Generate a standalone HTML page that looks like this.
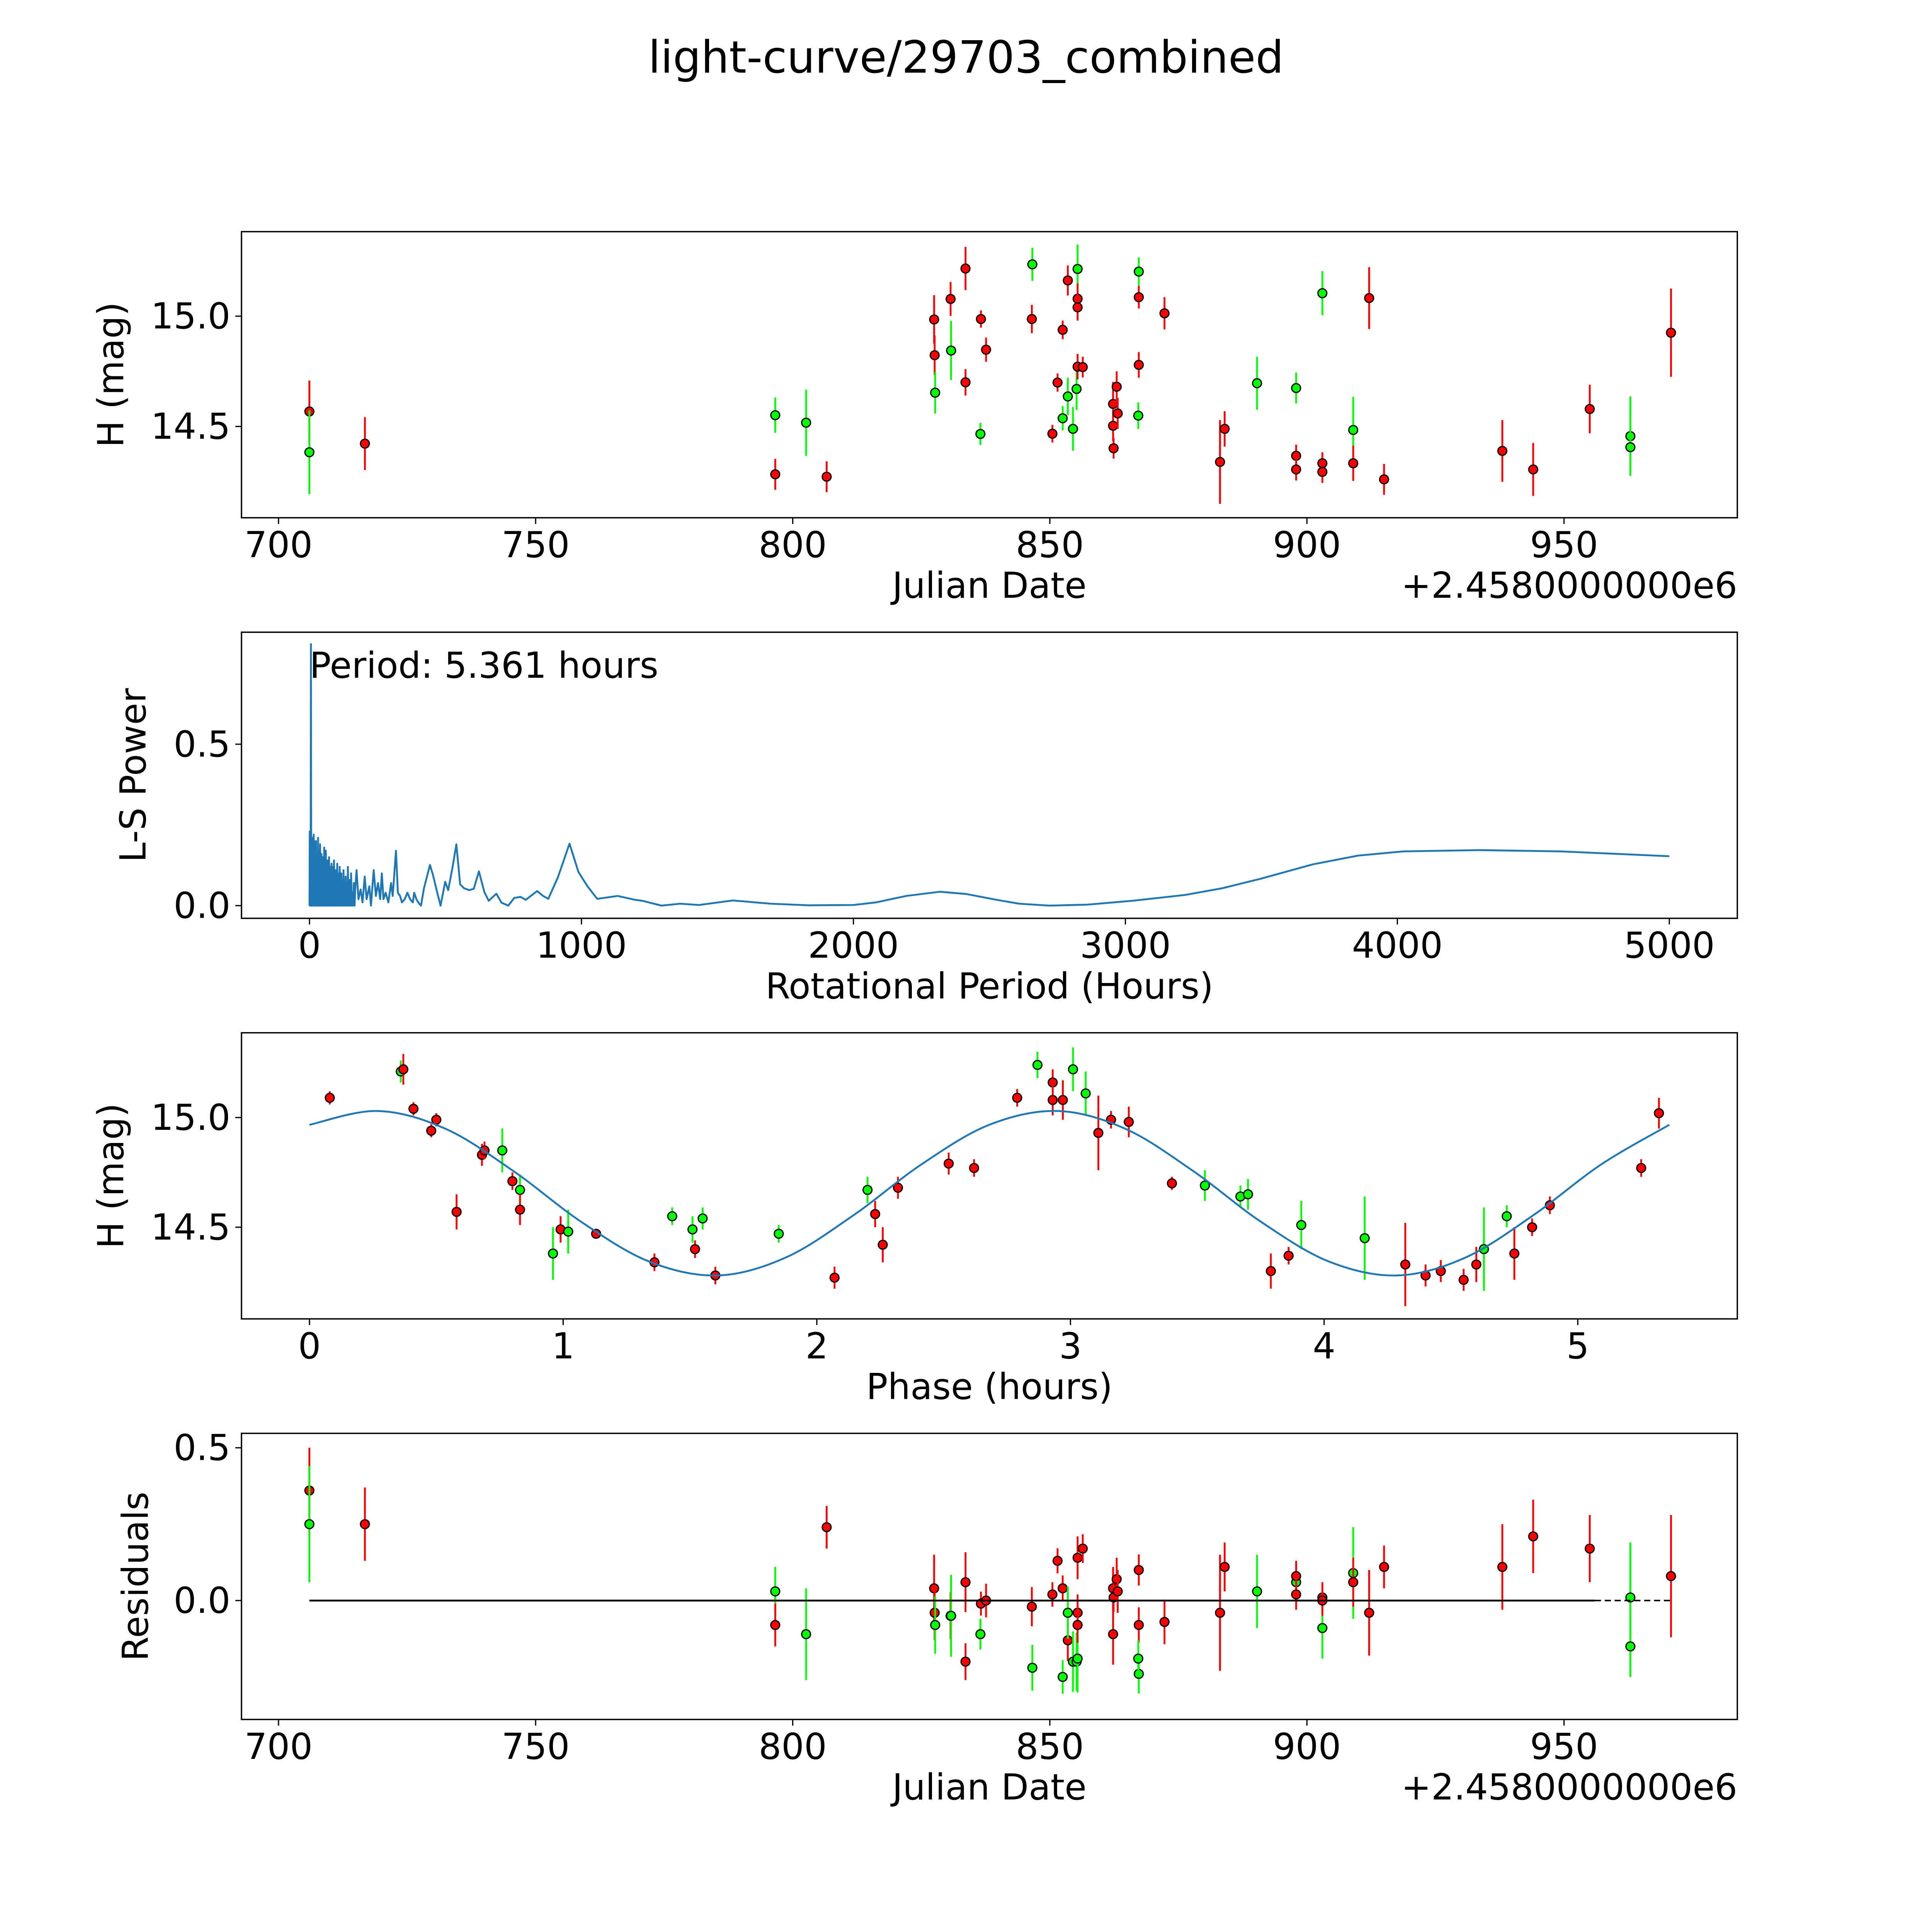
<!DOCTYPE html>
<html><head><meta charset="utf-8"><style>
html,body{margin:0;padding:0;background:#fff;overflow:hidden;width:100%;height:100%;}
svg{display:block;width:100vw;height:100vh;}
text{font-family:"DejaVu Sans","Liberation Sans",sans-serif;fill:#000;}
</style></head><body>
<svg id="fig" xmlns="http://www.w3.org/2000/svg" viewBox="0 0 1568 1568" preserveAspectRatio="none">
<rect x="0" y="0" width="1568" height="1568" fill="#fff"/>
<text x="784" y="59" font-size="36" text-anchor="middle">light-curve/29703_combined</text>
<g id="root"></g>
</svg>
<script>
// ---------- Panel 1: light curve ----------
const lcDates=[706.0,706.0,716.8,796.6,796.6,802.6,806.6,827.5,827.6,827.7,830.7,830.8,833.6,833.6,836.6,836.5,837.6,846.6,846.5,850.5,851.5,852.5,852.5,853.5,853.5,854.5,855.2,855.4,855.4,855.4,855.4,856.4,862.3,862.3,862.4,863.0,863.2,867.3,867.3,867.3,867.2,872.3,883.1,884.0,890.3,897.9,897.9,897.9,903.0,903.0,903.0,909.0,909.0,912.1,915.0,938.0,944.0,955.0,962.9,962.9,970.8];
const lcMags=[14.568,14.383,14.422,14.551,14.283,14.517,14.272,14.985,14.823,14.653,15.078,14.844,15.216,14.700,14.987,14.466,14.848,15.235,14.987,14.467,14.699,14.938,14.537,15.162,14.636,14.489,14.670,15.214,15.079,15.040,14.771,14.769,14.602,14.503,14.401,14.680,14.559,15.202,15.086,14.779,14.549,15.013,14.339,14.489,14.696,14.674,14.367,14.305,15.104,14.333,14.294,14.484,14.333,15.082,14.260,14.389,14.305,14.579,14.456,14.406,14.925];
const lcErrs=[0.14,0.19,0.12,0.08,0.07,0.15,0.07,0.11,0.09,0.094,0.077,0.134,0.098,0.06,0.039,0.05,0.055,0.075,0.064,0.04,0.041,0.042,0.055,0.068,0.085,0.099,0.095,0.111,0.07,0.06,0.058,0.047,0.10,0.07,0.047,0.07,0.07,0.064,0.051,0.058,0.06,0.073,0.19,0.08,0.12,0.07,0.05,0.05,0.10,0.05,0.05,0.15,0.08,0.14,0.07,0.14,0.12,0.11,0.18,0.10,0.2];
const lcColors=['r','g','r','g','r','g','r','r','r','g','r','g','r','r','r','g','r','g','r','r','r','r','g','r','g','g','g','g','r','r','r','r','r','r','r','r','r','g','r','r','g','r','r','r','g','g','r','r','g','r','r','g','r','r','r','r','r','r','g','g','r'];
// ---------- Panel 4: residuals ----------
const resValues=[0.36,0.25,0.25,0.03,-0.08,-0.11,0.24,0.04,-0.04,-0.08,-0.05,-0.05,0.06,-0.20,-0.01,-0.11,0.00,-0.22,-0.02,0.02,0.13,0.04,-0.25,-0.13,-0.04,-0.20,-0.20,-0.19,0.14,-0.04,-0.08,0.17,-0.11,0.04,0.01,0.07,0.03,-0.24,0.10,-0.08,-0.19,-0.07,-0.04,0.11,0.03,0.06,0.08,0.02,-0.09,0.01,0.00,0.09,0.06,-0.04,0.11,0.11,0.21,0.17,0.01,-0.15,0.08];
const resLineSolid=[706.0,956.0];
const resLineDashed=[956.0,970.8];
// ---------- Panel 2: periodogram ----------
const lsHeadPeriods=[0,1,2,3,4,5.36,6.5];
const lsHeadPowers=[0,0.23,0,0.15,0,0.81,0];
const lsDensePeriods=[
7.5,8.5,9.5,10.5,11.5,12.5,13.5,14.5,15.5,16.5,
17.5,18.5,19.5,20.5,21.5,23,24,25.5,26.5,28,
29,30.5,31.5,33,34,35.5,36.5,38,39,40.5,
41.5,43,44,45.5,46.5,48,49,50.5,51.5,53,
54,56,57,59,60,62,63,65,66,68,
69,71,72,74,75,77,78,80,81,83,
84,86,87,89,90,92,93,95,96,98,
99,101,102,104,105,107,108,110,111,113,
114,116,117,120,121,124,125,128,129,132,
133,136,137,140,141,144,145,148,149,152,
153,156,158,161,163,166,168];
const lsDensePowers=[
0.2,0,0.21,0.01,0.17,0,0.18,0,0.22,0,
0.2,0.01,0.17,0,0.19,0,0.2,0,0.15,0,
0.16,0,0.21,0,0.14,0,0.17,0,0.19,0,
0.13,0,0.16,0,0.12,0,0.15,0,0.13,0,
0.18,0,0.11,0,0.17,0,0.12,0,0.14,0,
0.09,0,0.15,0,0.12,0,0.1,0,0.13,0,
0.08,0,0.12,0,0.14,0,0.09,0,0.11,0,
0.07,0,0.13,0,0.1,0,0.06,0,0.12,0,
0.08,0,0.1,0,0.05,0,0.11,0,0.07,0,
0.09,0,0.06,0,0.12,0,0.05,0,0.08,0,
0.1,0,0.04,0,0.07,0,0.05];
const lsTailPeriods=[
173,180,188,195,203,210,220,226,236,244,
252,260,266,272,280,290,300,306,318,325,
333,340,350,360,370,380,385,393,400,410,
421,443,454,471,482,499,510,526,540,554,
568,587,604,623,643,659,687,706,731,753,
776,795,837,859,878,914,956,989,1022,1058,
1133,1197,1224,1294,1363,1432,1557,1695,1834,2000,
2083,2194,2318,2415,2526,2609,2720,2859,3025,3219,
3357,3496,3690,3856,4022,4300,4600,5000];
const lsTailPowers=[
0.11,0.02,0.05,0.01,0.09,0.02,0.06,0,0.11,0.03,
0.07,0.02,0.1,0.02,0.04,0.01,0.07,0.03,0.17,0.04,
0.03,0.01,0.02,0.04,0.02,0.01,0.04,0.02,0.01,0,
0.054,0.126,0.095,0.036,0,0.074,0.048,0.119,0.19,0.066,
0.054,0.048,0.052,0.106,0.042,0.015,0.037,0.009,0,0.024,
0.027,0.018,0.045,0.03,0.021,0.089,0.192,0.104,0.06,0.021,
0.030,0.018,0.015,0,0.006,0.002,0.016,0.006,0.001,0.002,
0.010,0.030,0.043,0.036,0.018,0.006,0,0.003,0.015,0.033,
0.054,0.083,0.128,0.155,0.168,0.172,0.168,0.153];
const lsPeriods=lsHeadPeriods.concat(lsDensePeriods,lsTailPeriods);
const lsPowers=lsHeadPowers.concat(lsDensePowers,lsTailPowers);
const lsLabel='Period: 5.361 hours';
// ---------- Panel 3: phased ----------
const phPhase=[0.08,0.36,0.37,0.41,0.48,0.50,0.68,0.69,0.76,0.80,0.83,0.83,0.58,0.96,0.99,1.02,1.13,1.36,1.43,1.51,1.52,1.55,1.60,1.85,2.07,2.20,2.23,2.26,2.32,2.52,2.62,2.79,2.87,2.93,2.93,2.97,3.01,3.06,3.11,3.16,3.23,3.40,3.53,3.67,3.70,3.79,3.86,3.91,4.16,4.32,4.40,4.46,4.55,4.60,4.63,4.72,4.75,4.82,4.89,5.25,5.32];
const phMags=[15.09,15.21,15.22,15.04,14.94,14.99,14.83,14.85,14.85,14.71,14.67,14.58,14.57,14.38,14.49,14.48,14.47,14.34,14.55,14.49,14.40,14.54,14.28,14.47,14.27,14.67,14.56,14.42,14.68,14.79,14.77,15.09,15.24,15.16,15.08,15.08,15.22,15.11,14.93,14.99,14.98,14.70,14.69,14.64,14.65,14.30,14.37,14.51,14.45,14.33,14.28,14.30,14.26,14.33,14.40,14.55,14.38,14.50,14.60,14.77,15.02];
const phErrs=[0.03,0.05,0.07,0.03,0.03,0.03,0.05,0.04,0.1,0.04,0.07,0.07,0.08,0.12,0.06,0.10,0.02,0.04,0.04,0.06,0.04,0.05,0.04,0.04,0.05,0.06,0.06,0.08,0.05,0.05,0.04,0.04,0.06,0.06,0.07,0.09,0.1,0.1,0.17,0.04,0.07,0.03,0.07,0.05,0.07,0.08,0.04,0.11,0.19,0.19,0.05,0.05,0.05,0.08,0.19,0.05,0.12,0.04,0.04,0.04,0.07];
const phColors=['r','g','r','r','r','r','r','r','g','r','g','r','r','g','r','g','r','r','g','g','r','g','r','g','r','g','r','r','r','r','r','r','g','r','r','r','g','g','r','r','r','r','g','g','g','r','r','g','g','r','r','r','r','r','g','g','r','r','r','r','r'];
const modelPhase=[0,0.268,0.536,0.804,1.072,1.340,1.608,1.876,2.144,2.412,2.680,2.948,3.216,3.484,3.752,4.020,4.288,4.556,4.824,5.092,5.361];
const modelMag=[14.967,15.030,14.949,14.756,14.524,14.343,14.280,14.361,14.554,14.786,14.967,15.030,14.949,14.756,14.524,14.343,14.280,14.361,14.554,14.786,14.967];
// ---------- Tick arrays ----------
const dateTicks=[700,750,800,850,900,950];
const magTicks=[14.5,15.0];
const periodTicks=[0,1000,2000,3000,4000,5000];
const powerTicks=[0.0,0.5];
const phaseTicks=[0,1,2,3,4,5];
const resTicks=[0.0,0.5];

const NS='http://www.w3.org/2000/svg';
const root=document.getElementById('root');
function mk(tag,attrs,parent){const e=document.createElementNS(NS,tag);for(const k in attrs)e.setAttribute(k,attrs[k]);(parent||root).appendChild(e);return e;}
const L=196,R=1410,W=R-L;
const TOPS=[188,513.1,838.2,1163.3],H=232.2;
const FS=29;
function lin(d0,d1,p0,p1){return v=>p0+(v-d0)*(p1-p0)/(d1-d0);}
const COL={r:'#ff0000',g:'#00ff00'};

const xDate=lin(692.8,983.7,L,R);
const y1=lin(15.0,14.5,256.6,346.1);
const xPer=lin(-250,5250,L,R);
const y2=lin(0,0.5,735,604);
const xPh=lin(-0.268,5.629,L,R);
const y3=lin(15.0,14.5,907,996);
const y4=lin(0,0.5,1299,1175);

function frame(i,name){
  const g=mk('g',{});
  
  
  return g;
}
function spine(g,i){
  const r=mk('rect',{x:L,y:TOPS[i],width:W,height:H,fill:'none',stroke:'#000','stroke-width':1.1},g);
  
  
}
function xticks(g,i,ticks,fx,fmt){
  const b=TOPS[i]+H;
  ticks.forEach(t=>{
    const x=fx(t);
    mk('line',{x1:x,x2:x,y1:b,y2:b+5,stroke:'#000','stroke-width':1},g);
    const tx=mk('text',{x:x,y:b+32,'font-size':FS,'text-anchor':'middle'},g);
    tx.textContent=fmt(t);
    
    
  });
}
function yticks(g,i,ticks,fy,fmt){
  ticks.forEach(t=>{
    const y=fy(t);
    mk('line',{x1:L-5,x2:L,y1:y,y2:y,stroke:'#000','stroke-width':1},g);
    const tx=mk('text',{x:L-9,y:y+10,'font-size':FS,'text-anchor':'end'},g);
    tx.textContent=fmt(t);
    
    
  });
}
function xlabel(g,i,txt){
  const t=mk('text',{x:803,y:TOPS[i]+H+65,'font-size':FS,'text-anchor':'middle'},g);
  t.textContent=txt;
  
  
}
function ylabel(g,i,txt,cx){
  const cy=TOPS[i]+H/2;
  const t=mk('text',{x:cx,y:cy,'font-size':FS,'text-anchor':'middle',transform:'rotate(-90 '+cx+' '+cy+')'},g);
  t.textContent=txt;
  
  
}
function offsetLabel(g,i){
  const t=mk('text',{x:R,y:TOPS[i]+H+65,'font-size':FS,'text-anchor':'end'},g);
  t.textContent='+2.4580000000e6';
  
  
}
function point(g,x,y,y0,y1v,c){
  const eb=mk('line',{x1:x,x2:x,y1:y0,y2:y1v,stroke:COL[c],'stroke-width':1.5},g);
  
  
  const m=mk('circle',{cx:x,cy:y,r:3.6,fill:COL[c],stroke:'#000','stroke-width':1},g);
  
  
}
const f1=v=>v.toFixed(1);
const f0=v=>String(v);

(function(){
  const g=frame(0,'light-curve-panel');
  const pts=mk('g',{},g);
  lcDates.forEach((d,k)=>{
    point(pts,xDate(d),y1(lcMags[k]),y1(lcMags[k]+lcErrs[k]),y1(lcMags[k]-lcErrs[k]),lcColors[k]);
  });
  spine(g,0);xticks(g,0,dateTicks,xDate,f0);yticks(g,0,magTicks,y1,f1);
  xlabel(g,0,'Julian Date');ylabel(g,0,'H (mag)',100);offsetLabel(g,0);
})();

(function(){
  const g=frame(1,'periodogram-panel');
  let d='';
  const n=Math.min(lsPeriods.length,lsPowers.length);
  for(let k=0;k<n;k++){d+=(k?'L':'M')+xPer(lsPeriods[k]).toFixed(2)+' '+y2(lsPowers[k]).toFixed(2);}
  const pl=mk('path',{d:d,fill:'none',stroke:'#1f77b4','stroke-width':1.5,'stroke-linejoin':'round'},g);
  
  
  spine(g,1);xticks(g,1,periodTicks,xPer,f0);yticks(g,1,powerTicks,y2,f1);
  xlabel(g,1,'Rotational Period (Hours)');ylabel(g,1,'L-S Power',118);
  const t=mk('text',{x:xPer(0),y:550,'font-size':FS},g);
  t.textContent=lsLabel;
  
  
})();

(function(){
  const g=frame(2,'phased-light-curve-panel');
  const P=modelPhase.map((p,k)=>[xPh(p),y3(modelMag[k])]);
  let d='M'+P[0][0]+' '+P[0][1];
  for(let k=0;k<P.length-1;k++){
    const p0=P[Math.max(0,k-1)],p1=P[k],p2=P[k+1],p3=P[Math.min(P.length-1,k+2)];
    const c1=[p1[0]+(p2[0]-p0[0])/6,p1[1]+(p2[1]-p0[1])/6];
    const c2=[p2[0]-(p3[0]-p1[0])/6,p2[1]-(p3[1]-p1[1])/6];
    d+='C'+c1[0].toFixed(2)+' '+c1[1].toFixed(2)+' '+c2[0].toFixed(2)+' '+c2[1].toFixed(2)+' '+p2[0].toFixed(2)+' '+p2[1].toFixed(2);
  }
  const pts=mk('g',{},g);
  phPhase.forEach((p,k)=>{
    point(pts,xPh(p),y3(phMags[k]),y3(phMags[k]+phErrs[k]),y3(phMags[k]-phErrs[k]),phColors[k]);
  });
  const ml=mk('path',{d:d,fill:'none',stroke:'#1f77b4','stroke-width':1.5},g);
  
  
  spine(g,2);xticks(g,2,phaseTicks,xPh,f0);yticks(g,2,magTicks,y3,f1);
  xlabel(g,2,'Phase (hours)');ylabel(g,2,'H (mag)',100);
})();

(function(){
  const g=frame(3,'residuals-panel');
  const pts=mk('g',{},g);
  lcDates.forEach((d,k)=>{
    point(pts,xDate(d),y4(resValues[k]),y4(resValues[k]+lcErrs[k]),y4(resValues[k]-lcErrs[k]),lcColors[k]);
  });
  const zl=mk('line',{x1:xDate(resLineSolid[0]),x2:xDate(resLineSolid[1]),y1:y4(0),y2:y4(0),stroke:'#000','stroke-width':1.5},g);
  
  
  const zd=mk('line',{x1:xDate(resLineDashed[0]),x2:xDate(resLineDashed[1]),y1:y4(0),y2:y4(0),stroke:'#000','stroke-width':1.2,'stroke-dasharray':'5 3'},g);
  
  
  spine(g,3);xticks(g,3,dateTicks,xDate,f0);yticks(g,3,resTicks,y4,f1);
  xlabel(g,3,'Julian Date');ylabel(g,3,'Residuals',120);offsetLabel(g,3);
})();
</script>
</body></html>
